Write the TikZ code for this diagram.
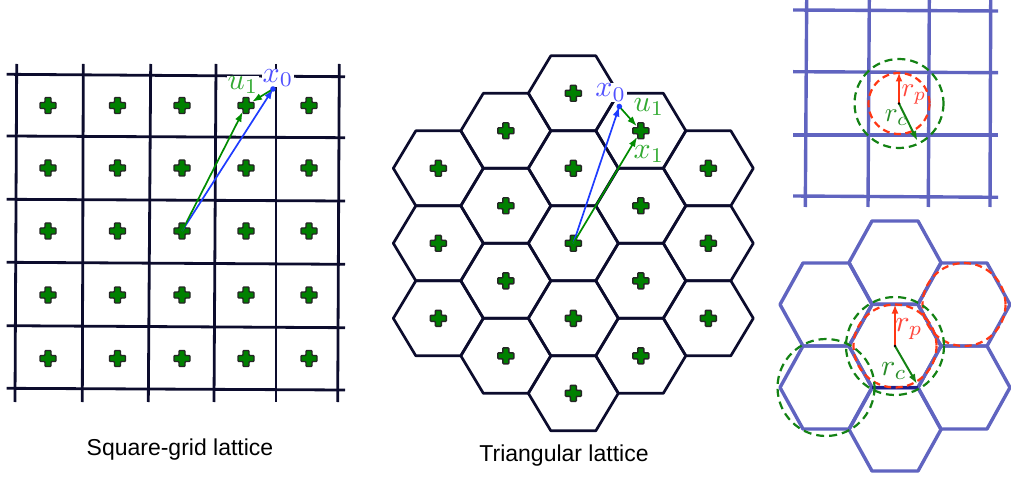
\documentclass[tikz,border=0pt]{standalone}
\usepackage{fontspec}
\newfontfamily\capfont{Liberation Sans}
\usetikzlibrary{arrows.meta}
\definecolor{gridc}{RGB}{12,12,45}
\definecolor{plusg}{RGB}{0,128,0}
\definecolor{arrb}{RGB}{30,60,255}
\definecolor{labb}{RGB}{80,80,255}
\definecolor{arrg}{RGB}{0,140,0}
\definecolor{labg}{RGB}{50,170,50}
\definecolor{slate}{RGB}{96,100,192}
\definecolor{navyseg}{RGB}{30,30,140}
\definecolor{redd}{RGB}{255,55,20}
\definecolor{labr}{RGB}{255,70,60}
\definecolor{greend}{RGB}{20,130,20}
\definecolor{labgd}{RGB}{40,140,40}
\tikzset{
  plusmark/.pic={\filldraw[fill=plusg,draw=black!85,line width=1.4pt,rounded corners=0.8pt]
    (-3,-8) -- (3,-8) -- (3,-3) -- (8,-3) -- (8,3) -- (3,3) -- (3,8)
    -- (-3,8) -- (-3,3) -- (-8,3) -- (-8,-3) -- (-3,-3) -- cycle;},
  gridline/.style={draw=gridc,line width=2.8pt},
  hexline/.style={draw=gridc,line width=2.7pt,line join=round},
  slateline/.style={draw=slate,line width=3.4pt,line join=round},
  barrow/.style={draw=arrb,line width=1.7pt,-{Latex[length=10pt,width=7pt]}},
  garrow/.style={draw=arrg,line width=1.7pt,-{Latex[length=10pt,width=7pt]}},
  rarrow/.style={draw=redd,line width=2pt,-{Latex[length=9pt,width=7pt]}},
  gdarrow/.style={draw=greend,line width=2pt,-{Latex[length=10pt,width=7pt]}},
  lab/.style={scale=3.0,inner sep=0.2pt},
  rlab/.style={scale=2.7,inner sep=0.2pt},
  capt/.style={font=\capfont\fontsize{23}{27}\selectfont,anchor=base,inner sep=0pt},
  rdash/.style={draw=redd,line width=2.2pt,dash pattern=on 7pt off 4.5pt},
  gdash/.style={draw=greend,line width=2.2pt,dash pattern=on 8pt off 5pt},
}
\begin{document}
\begin{tikzpicture}[x=1pt,y=-1pt]
\useasboundingbox (0,0) rectangle (1011,478);
% ---------- square grid ----------
\foreach \xt/\xb in {16.7/15,83.3/82.3,150.7/148.3,216/214,276/276,339.3/337.7}
  \draw[gridline] (\xt,64) -- (\xb,402);
\foreach \yl/\yr in {74.3/76.7,136/137.7,199.3/201,262.3/264.3,325.7/327.7,388.3/390}
  \draw[gridline] (6.7,\yl) -- (345,\yr);
\foreach \i/\x in {1/48,2/117.5,3/182,4/246,5/309}
  \foreach \j/\y in {1/105.5,2/168,3/231,4/295,5/358.5}{
    \coordinate (sq-\i-\j) at (\x,\y);
    \pic at (sq-\i-\j) {plusmark};
  }
\coordinate (sqx0) at (273,89);
\node[lab,text=labb,fill=white] (sqx0l) at (278,78) {$x_0$};
\node[lab,text=labg,fill=white] (squ1l) at (243,85) {$u_1$};
\draw[barrow] (sq-3-3) -- (sqx0);
\draw[garrow,shorten >=7pt] (sq-3-3) -- (sq-4-1);
\draw[garrow,shorten >=7pt] (sqx0) -- (sq-4-1);
\fill[arrb] (sqx0) circle (2.8);
\node[capt] (cap1) at (180,455) {Square-grid lattice};
% ---------- hexagonal lattice ----------
\foreach \q in {-2,...,2}
  \foreach \r in {-2,...,2}{
    \pgfmathtruncatemacro\s{\q+\r}
    \ifnum\s<-2\relax\else\ifnum\s>2\relax\else
      \coordinate (hx\q\r) at ({573.3+67.5*\q},{243.3+75*\r+37.5*\q});
      \draw[hexline] (hx\q\r) ++(45,0) -- ++(-22.5,37.5) -- ++(-45,0) -- ++(-22.5,-37.5)
        -- ++(22.5,-37.5) -- ++(45,0) -- cycle;
    \fi\fi
  }
\foreach \q in {-2,...,2}
  \foreach \r in {-2,...,2}{
    \pgfmathtruncatemacro\s{\q+\r}
    \ifnum\s<-2\relax\else\ifnum\s>2\relax\else
      \pic at (hx\q\r) {plusmark};
    \fi\fi
  }
\coordinate (hxx0) at (619.3,106.5);
\node[lab,text=labb,fill=white] (hxx0l) at (610.7,92.5) {$x_0$};
\node[lab,text=labg] (hxu1l) at (649,107) {$u_1$};
\node[lab,text=labg] (hxx1l) at (649,154) {$x_1$};
\draw[barrow] (hx00) -- (hxx0);
\draw[garrow,shorten >=6pt] (hxx0) -- (hx1-2);
\draw[garrow,shorten >=7pt] (hx00) -- (hx1-2);
\fill[arrb] (hxx0) circle (2.8);
\node[capt] (cap2) at (564,461.5) {Triangular lattice};
% ---------- top-right square cell ----------
\foreach \xt/\xb in {806.7/805.3,869.3/868,929.3/928.3,990.7/990}
  \draw[slateline] (\xt,0) -- (\xb,207);
\foreach \yl/\yr in {10/11,71.7/72.7,135/135,196/197.3}
  \draw[slateline] (793,\yl) -- (998,\yr);
\coordinate (sqc) at (899,103.5);
\coordinate (sqp) at (899,72.5);
\coordinate (sqr) at (917.5,141);
\draw[gdash] (sqc) circle (44.5);
\draw[rdash] (sqc) circle (30.5);
\draw[rarrow] (sqc) -- (sqp);
\draw[gdarrow] (sqc) -- (sqr);
\fill[black] (sqc) circle (1.4);
\node[rlab,text=labr] (sqrp) at (914,95) {$r_p$};
\node[rlab,text=labgd] (sqrc) at (896.5,118) {$r_c$};
% ---------- bottom-right hexagonal cells ----------
\foreach \n/\cx/\cy in {c/895/346,t/895/262.5,b/895/429.5,ul/826/304.5,ur/964/304.5,ll/826/387.5,lr/964/387.5}{
  \coordinate (bh\n) at (\cx,\cy);
  \draw[slateline] (bh\n) ++(46,0) -- ++(-23,41.5) -- ++(-46,0) -- ++(-23,-41.5)
    -- ++(23,-41.5) -- ++(46,0) -- cycle;
}
\draw[draw=navyseg,line width=3.4pt] (872,387.5) -- (918,387.5);
\draw[rdash] (bhc) circle (41.5);
\draw[rdash] (bhur) circle (41.5);
\draw[gdash] (bhc) circle (49);
\draw[gdash] (bhll) circle (48.5);
\coordinate (bhp) at (895,304.5);
\coordinate (bhr) at (917,384);
\draw[rarrow] (bhc) -- (bhp);
\draw[gdarrow] (bhc) -- (bhr);
\fill[black] (bhc) circle (1.4);
\node[lab,text=labr] (bhrp) at (909,329) {$r_p$};
\node[lab,text=labgd] (bhrc) at (894,371) {$r_c$};
\end{tikzpicture}
\end{document}
